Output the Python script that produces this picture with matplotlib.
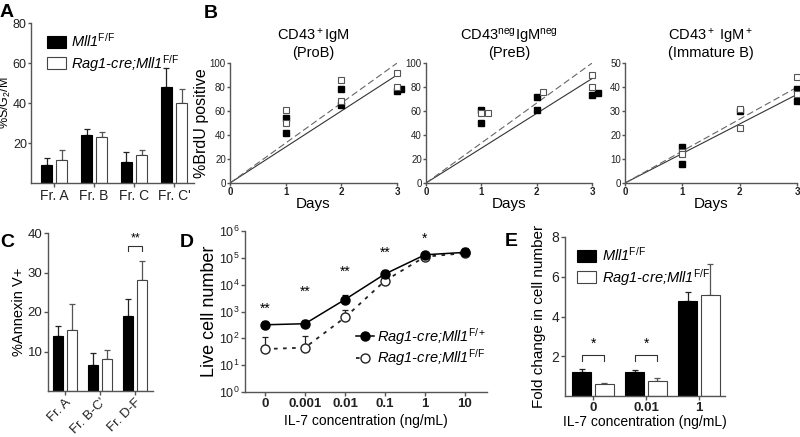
import numpy as np
import matplotlib.pyplot as plt
from matplotlib.ticker import FixedLocator, NullLocator

plt.rcParams['font.family'] = ['Liberation Sans', 'DejaVu Sans']
plt.rcParams['mathtext.fontset'] = 'custom'
plt.rcParams['mathtext.rm'] = 'Liberation Sans'
plt.rcParams['mathtext.it'] = 'Liberation Sans:italic'
plt.rcParams['mathtext.bf'] = 'Liberation Sans:bold'

# ---- data ----
# A: %S/G2/M
a_cats = ['Fr. A', 'Fr. B', 'Fr. C', "Fr. C'"]
a_ctrl = [9, 24, 10.5, 48]
a_ctrl_top = [12.5, 27, 15.5, 57.5]
a_ko = [11.5, 23, 14, 40]
a_ko_top = [16.5, 25.5, 16.5, 47]

# B: BrdU incorporation, (day, value)
b_titles = ['CD43$^{\\rm +}$IgM\n(ProB)', 'CD43$^{\\rm neg}$IgM$^{\\rm neg}$\n(PreB)',
            'CD43$^{\\rm +}$ IgM$^{\\rm +}$\n(Immature B)']
b_ctrl_x = [[1, 1, 2, 2, 3, 3.08], [1, 1, 2, 2, 3, 3.1], [1, 1, 2, 3, 3]]
b_ctrl_y = [[54, 42, 78, 65, 77, 78.5], [61, 50, 72, 61, 73, 75], [15, 8, 30, 39, 34]]
b_ko_x = [[1, 1, 2, 2, 3, 3], [1, 1.12, 2.12, 3, 3], [1, 1, 2, 2, 3, 3]]
b_ko_y = [[61, 50, 86, 68, 92, 80], [58, 58.5, 76, 90, 80], [13, 12, 31, 23, 44, 37]]
b_fit_ctrl = [30, 29, 12.3]   # slope per day (solid)
b_fit_ko = [33.3, 33.3, 13.3]  # slope per day (dashed)
b_ymax = [100, 100, 50]

# C: %Annexin V+
c_cats = ['Fr. A', "Fr. B-C'", 'Fr. D-F']
c_ctrl = [14, 6.5, 19]
c_ctrl_top = [16.5, 9.7, 23.3]
c_ko = [15.5, 8, 28]
c_ko_top = [22, 10.5, 33]

# D: live cell number vs IL-7
d_conc = ['0', '0.001', '0.01', '0.1', '1', '10']
d_het = [320, 350, 2800, 25000, 130000, 160000]
d_het_top = [450, 500, 4000, 35000, 150000, 220000]
d_ko = [40, 45, 600, 14000, 110000, 150000]
d_ko_top = [110, 120, 1100, 16000, 125000, 230000]
d_stars = ['**', '**', '**', '**', '*', '']
d_star_y = [1300, 5300, 30000, 160000, 500000, None]

# E: fold change
e_conc = ['0', '0.01', '1']
e_ctrl = [1.2, 1.22, 4.8]
e_ctrl_top = [1.35, 1.33, 5.25]
e_ko = [0.6, 0.75, 5.1]
e_ko_top = [0.63, 0.9, 6.65]
e_stars = ['*', '*', '']

W, H = 800, 437
fig = plt.figure(figsize=(W / 100, H / 100), dpi=100)
SP = '#555555'


def px_axes(l, t, r, b):
    return fig.add_axes([l / W, 1 - b / H, (r - l) / W, (b - t) / H])


def style(ax, lab=9.5):
    for s in ['top', 'right']:
        ax.spines[s].set_visible(False)
    for s in ['left', 'bottom']:
        ax.spines[s].set_color(SP)
        ax.spines[s].set_linewidth(1)
    ax.tick_params(colors=SP, labelcolor='#222222', length=3, width=1, labelsize=lab, pad=1)


def ylab(ax, text, size, right_px):
    # place y label so its right edge sits at an absolute pixel column
    ax.set_ylabel(text, fontsize=size)
    x0 = ax.get_position().x0 * W
    w = ax.get_position().width * W
    ax.yaxis.set_label_coords((right_px - x0) / w, 0.5)


def up_err(ax, x, y, top, color='black'):
    y = np.asarray(y, float)
    e = np.asarray(top, float) - y
    ax.errorbar(x, y, yerr=[np.zeros_like(e), e], fmt='none', ecolor=color,
                elinewidth=0.9, capsize=2.5, capthick=0.9, zorder=1)


def paired_bars(ax, ctrl, ctrl_top, ko, ko_top, w=0.3, off=0.18):
    x = np.arange(len(ctrl))
    up_err(ax, x - off, ctrl, ctrl_top, '#222222')
    up_err(ax, x + off, ko, ko_top, '#555555')
    b1 = ax.bar(x - off, ctrl, w, color='black', edgecolor='black', lw=0.8, zorder=2)
    b2 = ax.bar(x + off, ko, w, color='white', edgecolor='#444444', lw=0.8, zorder=2)
    return x, b1, b2


lab_ctrl = 'Mll1$^{\\rm F/F}$'
lab_ko = 'Rag1-cre;Mll1$^{\\rm F/F}$'
leg_kw = dict(frameon=False, handlelength=1.3, handleheight=0.9, handletextpad=0.4,
              labelspacing=0.2, borderaxespad=0)

# ---- A ----
ax = px_axes(31, 23, 194, 183)
style(ax, lab=9)
ax.tick_params(axis='y', length=2.5, pad=0.5)
x, b1, b2 = paired_bars(ax, a_ctrl, a_ctrl_top, a_ko, a_ko_top, w=0.28, off=0.19)
ax.set_xlim(-0.58, 3.5)
ax.set_ylim(0, 80)
ax.set_yticks([20, 40, 60, 80])
ax.set_xticks(x)
ax.set_xticklabels(a_cats, fontsize=10)
ylab(ax, '%S/G$_2$/M', 9, 13.5)
ax.legend([b1, b2], [lab_ctrl, lab_ko], loc='upper left', bbox_to_anchor=(0.06, 0.98),
          prop={'style': 'italic', 'size': 10.5}, **leg_kw)

# ---- B ----
b_rects = [(230, 63, 397, 183), (426, 63, 592, 183), (625, 63, 797, 183)]
for i, r in enumerate(b_rects):
    ax = px_axes(*r)
    style(ax, lab=7)
    ax.tick_params(length=2, pad=1)
    xs = np.array([0, 3])
    ax.plot(xs, b_fit_ctrl[i] * xs, color='#333333', lw=0.8, zorder=1)
    ax.plot(xs, b_fit_ko[i] * xs, color='#666666', lw=0.8, dashes=(6, 3), zorder=1)
    ax.plot(b_ctrl_x[i], b_ctrl_y[i], 's', ms=3.8, color='black', clip_on=False, zorder=3)
    ax.plot(b_ko_x[i], b_ko_y[i], 's', ms=3.8, mfc='white', mec='#555555', mew=0.8,
            clip_on=False, zorder=3)
    ax.set_xlim(0, 3)
    ax.set_ylim(0, b_ymax[i])
    ax.set_xticks([0, 1, 2, 3])
    for t in ax.get_xticklabels():
        t.set_fontweight('bold')
    ax.set_yticks(np.arange(0, b_ymax[i] + 1, b_ymax[i] // 5))
    ax.set_xlabel('Days', fontsize=11, labelpad=0)
    ax.set_title(b_titles[i], fontsize=10.5, pad=4, linespacing=1.05)
    if i == 0:
        ylab(ax, '%BrdU positive', 11.5, 209)

# ---- C ----
ax = px_axes(48, 233, 153, 391)
style(ax)
x, b1, b2 = paired_bars(ax, c_ctrl, c_ctrl_top, c_ko, c_ko_top, w=0.3, off=0.2)
ax.set_xlim(-0.49, 2.51)
ax.set_ylim(0, 40)
ax.set_yticks([10, 20, 30, 40])
ax.set_xticks(x)
ax.set_xticklabels(c_cats, fontsize=9.5, rotation=45, ha='right', rotation_mode='anchor')
ylab(ax, '%Annexin V+', 10.5, 26)
ax.plot([2 - 0.2, 2 - 0.2, 2 + 0.2, 2 + 0.2], [35.5, 36.8, 36.8, 35.5], color='#333333', lw=0.8)
ax.text(2, 37.2, '**', ha='center', va='bottom', fontsize=9)

# ---- D ----
ax = px_axes(245, 231, 487, 392)
style(ax, lab=9)
xd = np.arange(len(d_conc))
up_err(ax, xd, d_het, d_het_top)
up_err(ax, xd, d_ko, d_ko_top, '#222222')
l1, = ax.plot(xd, d_het, '-o', color='black', ms=6.5, lw=1.1, zorder=3)
l2, = ax.plot(xd, d_ko, 'o', ls=(0, (2, 3)), color='#222222', mfc='white', mec='#222222',
              ms=6.5, mew=1, lw=1.3, zorder=2)
ax.set_yscale('log')
ax.set_ylim(1, 1e6)
ax.yaxis.set_major_locator(FixedLocator([10.0 ** k for k in range(7)]))
ax.yaxis.set_minor_locator(NullLocator())
ax.set_xlim(-0.5, 5.55)
ax.set_xticks(xd)
ax.set_xticklabels(d_conc, fontweight='bold', fontsize=9.5)
for xi, s, sy in zip(xd, d_stars, d_star_y):
    if s:
        ax.text(xi, sy, s, ha='center', va='center', fontsize=10)
ylab(ax, 'Live cell number', 13, 218)
ax.set_xlabel('IL-7 concentration (ng/mL)', fontsize=10, labelpad=3)
ax.legend([l1, l2], ['Rag1-cre;Mll1$^{\\rm F/+}$', 'Rag1-cre;Mll1$^{\\rm F/F}$'],
          loc='lower right', bbox_to_anchor=(1.02, 0.11), frameon=False,
          prop={'style': 'italic', 'size': 10.5}, handlelength=1.2, handletextpad=0.2,
          labelspacing=0.05, borderaxespad=0)

# ---- E ----
ax = px_axes(565, 237, 725, 396)
style(ax, lab=10)
x, b1, b2 = paired_bars(ax, e_ctrl, e_ctrl_top, e_ko, e_ko_top, w=0.36, off=0.21)
ax.set_xlim(-0.53, 2.49)
ax.set_ylim(0, 8)
ax.set_yticks([2, 4, 6, 8])
ax.set_xticks(x)
ax.set_xticklabels(e_conc, fontweight='bold', fontsize=9.5)
for xi, s in zip(x, e_stars):
    if s:
        ax.plot([xi - 0.21, xi - 0.21, xi + 0.21, xi + 0.21], [1.75, 2.05, 2.05, 1.75],
                color='#333333', lw=0.8)
        ax.text(xi, 2.3, s, ha='center', va='bottom', fontsize=10)
ylab(ax, 'Fold change in cell number', 11, 546)
ax.set_xlabel('IL-7 concentration (ng/mL)', fontsize=10, labelpad=1)
ax.legend([b1, b2], [lab_ctrl, lab_ko], loc='upper left', bbox_to_anchor=(0.04, 0.98),
          prop={'style': 'italic', 'size': 10.5}, **leg_kw)

# panel letters (baseline positions in pixels)
for lx, ly, s in [(0, 17, 'A'), (204, 18, 'B'), (0, 247, 'C'), (180, 247, 'D'), (505, 246, 'E')]:
    fig.text(lx / W, 1 - ly / H, s, fontsize=14, fontweight='bold', va='baseline', ha='left')

fig.savefig('out.png', dpi=100)
